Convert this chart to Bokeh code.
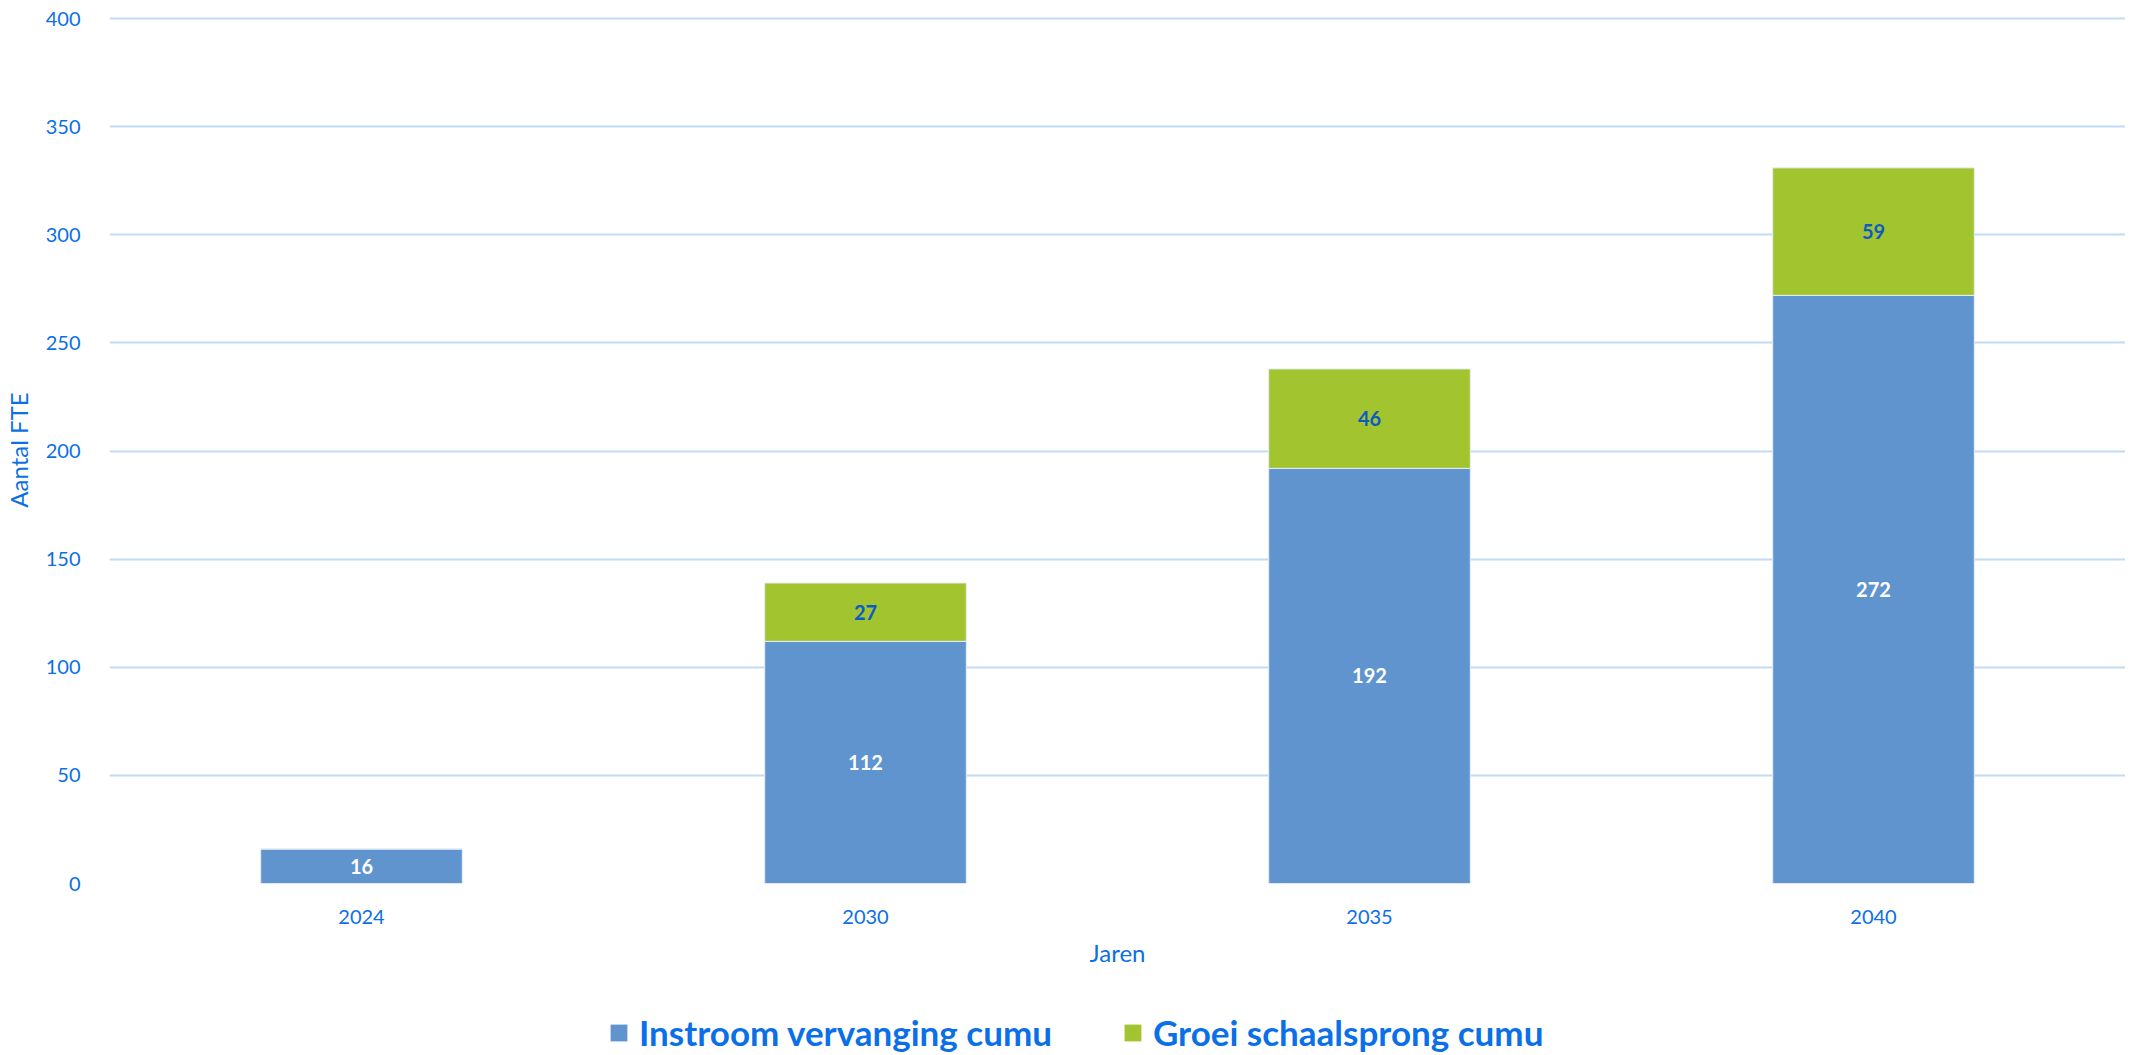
from bokeh.plotting import figure
from bokeh.layouts import column
from bokeh.models import ColumnDataSource, FixedTicker, Legend, LegendItem, Range1d, FactorRange
from bokeh.core.properties import value
from bokeh.embed import file_html
from bokeh.resources import INLINE

# ---- data ----
years = ["2024", "2030", "2035", "2040"]
instroom = [16, 112, 192, 272]
groei = [0, 27, 46, 59]
series_names = ["Instroom vervanging cumu", "Groei schaalsprong cumu"]
y_ticks = [0, 50, 100, 150, 200, 250, 300, 350, 400]

BLUE = "#5f94cf"
GREEN = "#a1c42f"
TXT = "#0b6fe8"
FONT = "Lato"

src = ColumnDataSource(dict(year=years, instroom=instroom, groei=groei))

p = figure(x_range=FactorRange(factors=years, range_padding=0), y_range=Range1d(0, 401),
           frame_width=2016, frame_height=867, output_backend="svg", toolbar_location=None,
           min_border_left=101, min_border_top=16, min_border_right=0, min_border_bottom=100)

r = p.vbar_stack(["instroom", "groei"], x="year", width=0.4, source=src,
                 color=[BLUE, GREEN], line_color="#e6eef8", line_width=1)

# segment labels
lab_b = ColumnDataSource(dict(x=years, y=[v / 2 for v in instroom], t=[str(v) for v in instroom]))
gy = [(y, a + g / 2, str(g)) for y, a, g in zip(years, instroom, groei) if g > 0]
lab_g = ColumnDataSource(dict(x=[a[0] for a in gy], y=[a[1] for a in gy], t=[a[2] for a in gy]))
p.text(x="x", y="y", text="t", source=lab_b, text_align="center", text_baseline="middle",
       text_color="white", text_font=value(FONT), text_font_style="bold", text_font_size="20px")
p.text(x="x", y="y", text="t", source=lab_g, text_align="center", text_baseline="middle",
       text_color="#0d5ac4", text_font=value(FONT), text_font_style="bold", text_font_size="20px")

# axes
p.yaxis.ticker = FixedTicker(ticks=y_ticks)
p.yaxis.axis_line_color = None
p.yaxis.major_tick_line_color = None
p.yaxis.minor_tick_line_color = None
p.yaxis.major_label_standoff = 23
p.yaxis.major_label_text_font = FONT
p.yaxis.major_label_text_font_size = "20px"
p.yaxis.major_label_text_color = TXT
p.yaxis.axis_label = "Aantal FTE"
p.yaxis.axis_label_text_font = FONT
p.yaxis.axis_label_text_font_style = "normal"
p.yaxis.axis_label_text_font_size = "24px"
p.yaxis.axis_label_text_color = TXT
p.yaxis.axis_label_standoff = 10

p.xaxis.axis_line_color = None
p.xaxis.major_tick_line_color = None
p.xaxis.minor_tick_line_color = None
p.xaxis.major_label_standoff = 20
p.xaxis.major_label_text_font = FONT
p.xaxis.major_label_text_font_size = "20px"
p.xaxis.major_label_text_color = TXT
p.xaxis.axis_label = "Jaren"
p.xaxis.axis_label_text_font = FONT
p.xaxis.axis_label_text_font_style = "normal"
p.xaxis.axis_label_text_font_size = "24px"
p.xaxis.axis_label_text_color = TXT
p.xaxis.axis_label_standoff = 11

p.xgrid.grid_line_color = None
p.ygrid.grid_line_color = "#c3daf5"
p.ygrid.grid_line_width = 2
p.outline_line_color = None

# ---- legend strip (separate figure so it is not clipped) ----
# zero-width bars of the same data, outside the y range: only the legend shows
lg = figure(x_range=FactorRange(factors=years, range_padding=0), y_range=Range1d(-2, -1),
            width=2117, height=70, output_backend="svg", toolbar_location=None,
            x_axis_type=None, y_axis_type=None,
            min_border_left=0, min_border_right=0, min_border_top=0, min_border_bottom=0)
lg.grid.grid_line_color = None
lg.outline_line_color = None
lr = lg.vbar_stack(["instroom", "groei"], x="year", width=0, source=src,
                   color=[BLUE, GREEN], line_color=None)
legend = Legend(items=[LegendItem(label=series_names[0], renderers=[lr[0]]),
                       LegendItem(label=series_names[1], renderers=[lr[1]])],
                orientation="horizontal", location=(499, 0),
                label_text_font=FONT, label_text_font_style="bold", label_text_font_size="35px",
                label_text_color=TXT, glyph_width=21, glyph_height=21, label_standoff=10,
                spacing=70, margin=0, padding=0, border_line_color=None,
                background_fill_alpha=0)
lg.add_layout(legend, "center")

layout = column(p, lg, spacing=0)
open("out.html", "w").write(file_html(layout, INLINE))
